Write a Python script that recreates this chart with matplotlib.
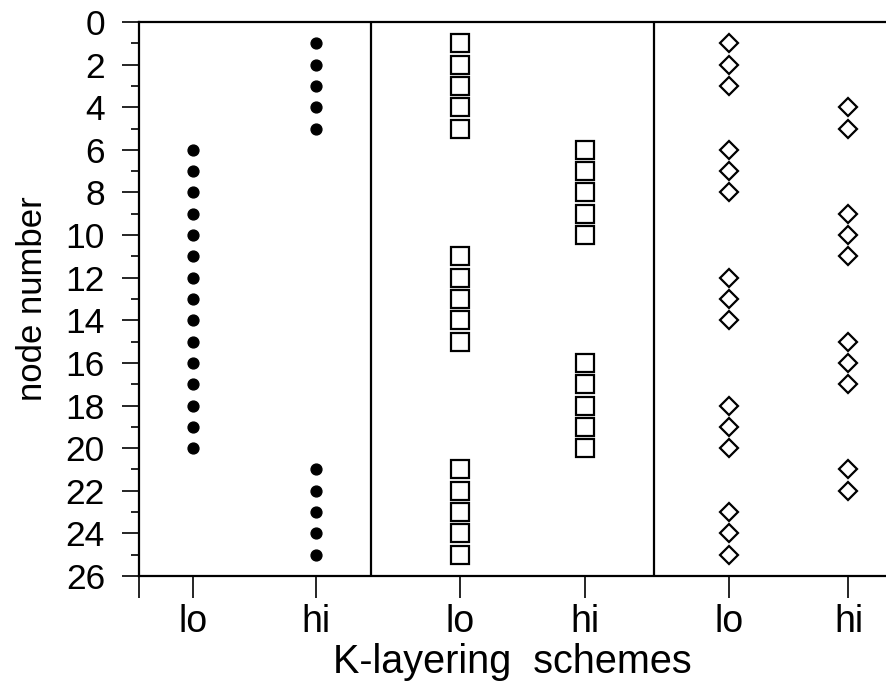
import matplotlib
matplotlib.use("Agg")
import matplotlib.pyplot as plt
from matplotlib.ticker import MultipleLocator, FixedLocator

plt.rcParams['font.family'] = ['Liberation Sans', 'DejaVu Sans']

# ---- data ----
tick_labels = ["lo", "hi", "lo", "hi", "lo", "hi"]
positions = [0.0, 1.0, 2.17, 3.19, 4.36, 5.33]   # category centres on x
separators = [1.45, 3.75]                         # panel dividers
x_limits = (-0.44, 5.635)

p1_lo = [6, 7, 8, 9, 10, 11, 12, 13, 14, 15, 16, 17, 18, 19, 20]
p1_hi = [1, 2, 3, 4, 5, 21, 22, 23, 24, 25]
p2_lo = [1, 2, 3, 4, 5, 11, 12, 13, 14, 15, 21, 22, 23, 24, 25]
p2_hi = [6, 7, 8, 9, 10, 16, 17, 18, 19, 20]
p3_lo = [1, 2, 3, 6, 7, 8, 12, 13, 14, 18, 19, 20, 23, 24, 25]
p3_hi = [4, 5, 9, 10, 11, 15, 16, 17, 21, 22]

y_ticks = list(range(0, 27, 2))

fig = plt.figure(figsize=(8.86, 6.90), dpi=100)
ax = fig.add_axes([139/886, 1 - 576/690, 1 - 139/886, (576 - 22)/690])

series = [(p1_lo, 0, 'o'), (p1_hi, 1, 'o'),
          (p2_lo, 2, 's'), (p2_hi, 3, 's'),
          (p3_lo, 4, 'D'), (p3_hi, 5, 'D')]
for vals, idx, mk in series:
    xs = [positions[idx]] * len(vals)
    if mk == 'o':
        ax.plot(xs, vals, linestyle='none', marker='o', ms=7.8,
                mfc='black', mec='black', clip_on=False)
    elif mk == 's':
        ax.plot(xs, vals, linestyle='none', marker='s', ms=12.8,
                mfc='white', mec='black', mew=1.6, clip_on=False)
    else:
        ax.plot(xs, vals, linestyle='none', marker='D', ms=9.2,
                mfc='white', mec='black', mew=1.6, clip_on=False)

for s in separators:
    ax.axvline(s, color='black', lw=1.6)

ax.set_xlim(*x_limits)
ax.set_ylim(26, 0)

ax.yaxis.set_major_locator(FixedLocator(y_ticks))
ax.set_yticklabels([str(v) for v in y_ticks])
ax.yaxis.set_minor_locator(MultipleLocator(1))

ax.set_xticks([x_limits[0]] + positions)
ax.set_xticklabels([""] + tick_labels)

ax.tick_params(axis='y', which='major', direction='out', length=12.5, width=1.2,
               pad=12, labelsize=25.5)
ax.tick_params(axis='y', which='minor', direction='out', length=6, width=1.2)
ax.tick_params(axis='x', which='major', direction='out', length=16, width=1.2,
               pad=4, labelsize=27)

for side in ['left', 'bottom', 'top']:
    ax.spines[side].set_linewidth(1.6)
ax.spines['right'].set_visible(False)

ax.set_xlabel("K-layering  schemes", fontsize=28.5, labelpad=2)
ax.set_ylabel("node number", fontsize=25, labelpad=12)

fig.savefig("out.png", dpi=100)
